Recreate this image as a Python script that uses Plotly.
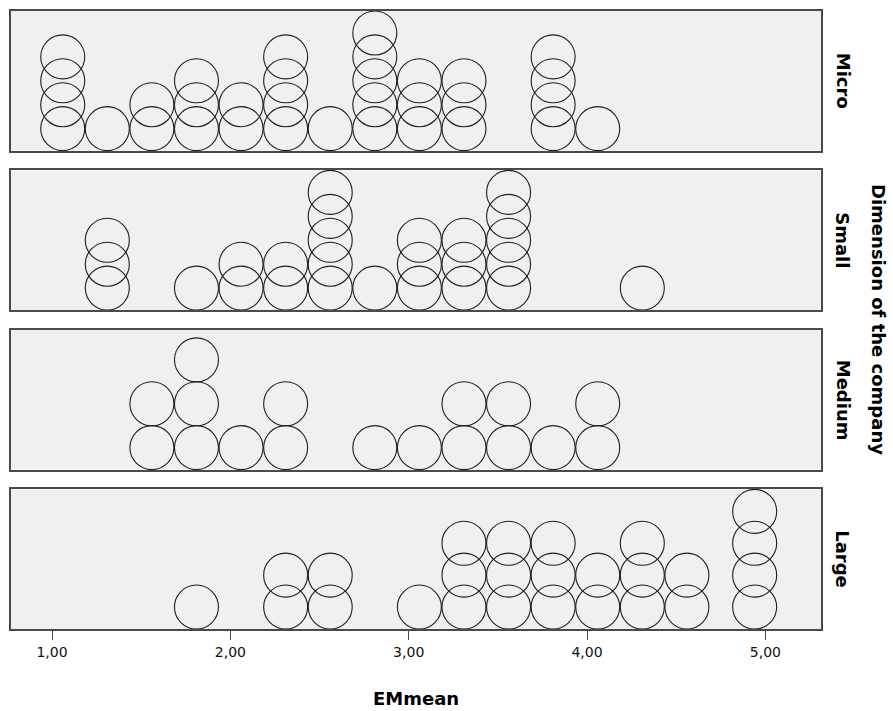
import plotly.graph_objects as go

# ---- data ----
panel_names = ["Micro", "Small", "Medium", "Large"]

micro_x = [1.06, 1.31, 1.56, 1.81, 2.06, 2.31, 2.56, 2.81, 3.06, 3.31, 3.81, 4.06]
micro_n = [4, 1, 2, 3, 2, 4, 1, 5, 3, 3, 4, 1]

small_x = [1.31, 1.81, 2.06, 2.31, 2.56, 2.81, 3.06, 3.31, 3.56, 4.31]
small_n = [3, 1, 2, 2, 5, 1, 3, 3, 5, 1]

medium_x = [1.56, 1.81, 2.06, 2.31, 2.81, 3.06, 3.31, 3.56, 3.81, 4.06]
medium_n = [2, 3, 1, 2, 1, 1, 2, 2, 1, 2]

large_x = [1.81, 2.31, 2.56, 3.06, 3.31, 3.56, 3.81, 4.06, 4.31, 4.56, 4.94]
large_n = [1, 2, 2, 1, 3, 3, 3, 2, 3, 2, 4]

tick_vals = [1, 2, 3, 4, 5]
x_title = "EMmean"
facet_title = "Dimension of the company"

series = [(panel_names[0], micro_x, micro_n),
          (panel_names[1], small_x, small_n),
          (panel_names[2], medium_x, medium_n),
          (panel_names[3], large_x, large_n)]

# ---- layout constants ----
W, H = 893, 711
ML, MR, MT, MB = 11, 72, 9, 82
AREA_H = H - MT - MB          # 620
AREA_W = W - ML - MR          # 810
PANEL = 140
GAP = 20
DOT = 44                      # dot diameter (px)
XRANGE = [0.77, 5.312]
LINE_COLOR = "#4a4a4a"
FONT = "DejaVu Sans"

fig = go.Figure()
annotations = []
n_panels = len(series)

for i, (name, xs, ns) in enumerate(series):
    idx = i + 1
    xa = "x" if idx == 1 else f"x{idx}"
    ya = "y" if idx == 1 else f"y{idx}"
    maxn = max(ns)
    step = DOT if maxn <= 1 else min(DOT, (PANEL - DOT) / (maxn - 1))
    px, py = [], []
    for x, n in zip(xs, ns):
        for k in range(n):
            px.append(x)
            py.append(DOT / 2 + k * step)
    fig.add_trace(go.Scatter(
        x=px, y=py, mode="markers", xaxis=xa, yaxis=ya,
        marker=dict(symbol="circle-open", size=DOT, color="#1e1e1e",
                    line=dict(width=1.1)),
        cliponaxis=False, hoverinfo="skip", showlegend=False))

    top = AREA_H - i * (PANEL + GAP)
    bottom = top - PANEL
    last = (i == n_panels - 1)
    xkey = "xaxis" if idx == 1 else f"xaxis{idx}"
    ykey = "yaxis" if idx == 1 else f"yaxis{idx}"
    fig.layout[xkey] = dict(
        domain=[0, 1], anchor=ya, range=XRANGE,
        showline=True, mirror=True, linecolor=LINE_COLOR, linewidth=1.6,
        showgrid=False, zeroline=False,
        ticks="outside" if last else "", ticklen=9, tickwidth=1.2,
        tickcolor=LINE_COLOR,
        showticklabels=last, tickmode="array", tickvals=tick_vals,
        tickformat=".2f",
        tickfont=dict(family=FONT, size=14, color="#111"),
    )
    fig.layout[ykey] = dict(
        domain=[bottom / AREA_H, top / AREA_H], anchor=xa, range=[0, PANEL],
        showline=True, mirror=True, linecolor=LINE_COLOR, linewidth=1.6,
        showgrid=False, zeroline=False, showticklabels=False, ticks="",
    )
    annotations.append(dict(
        text=name, xref="paper", yref="paper",
        x=(843 - ML) / AREA_W, y=(bottom + PANEL / 2) / AREA_H,
        xanchor="center", yanchor="middle", textangle=90, showarrow=False,
        font=dict(family=FONT, size=18, color="#000", weight="bold")))

annotations.append(dict(
    text=facet_title, xref="paper", yref="paper",
    x=(879 - ML) / AREA_W, y=0.5, xanchor="center", yanchor="middle",
    textangle=90, showarrow=False,
    font=dict(family=FONT, size=18, color="#000", weight="bold")))

annotations.append(dict(
    text=x_title, xref="paper", yref="paper",
    x=0.5, y=-(699 - (H - MB)) / AREA_H, xanchor="center", yanchor="middle",
    showarrow=False,
    font=dict(family=FONT, size=18, color="#000", weight="bold")))

fig.update_layout(
    width=W, height=H,
    margin=dict(l=ML, r=MR, t=MT, b=MB, pad=0),
    paper_bgcolor="white", plot_bgcolor="#f0f0f0",
    separators=",.",
    annotations=annotations,
    showlegend=False,
)

fig.write_html(
    "out.html",
    config={"displayModeBar": False},
    post_script="document.body.style.margin='0';document.body.style.padding='0';",
)
